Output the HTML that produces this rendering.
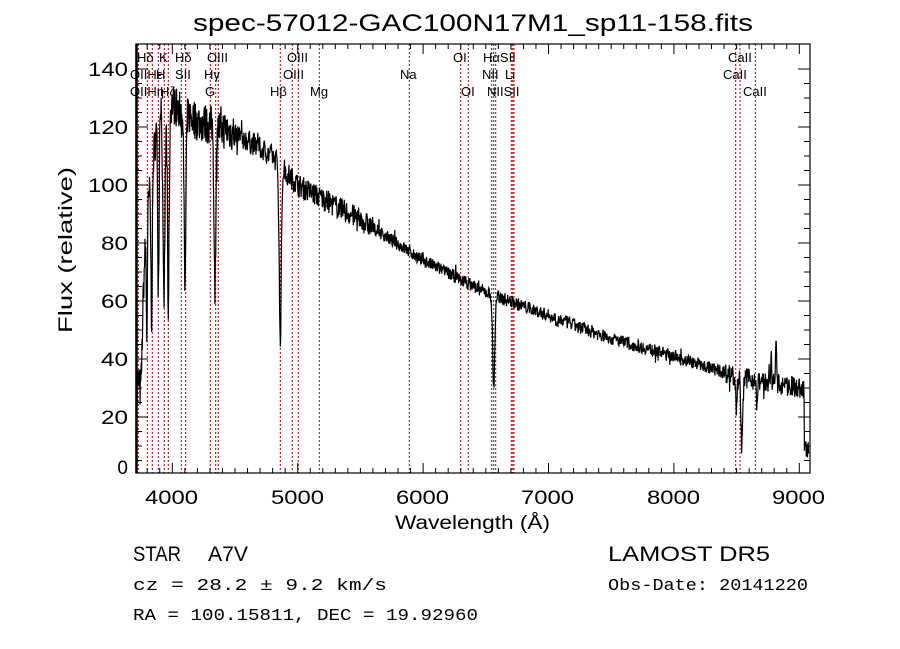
<!DOCTYPE html>
<html><head><meta charset="utf-8"><style>
body{margin:0;background:#fff;}
svg{display:block;font-family:"Liberation Sans",sans-serif;}
</style></head><body>
<svg id="s" width="900" height="649" viewBox="0 0 900 649" xmlns="http://www.w3.org/2000/svg">
<rect width="900" height="649" fill="#fff"/>
<text x="193" y="31" font-size="24" textLength="560" lengthAdjust="spacingAndGlyphs">spec-57012-GAC100N17M1_sp11-158.fits</text>
<g id="lines"></g>
<polyline id="spec" fill="none" stroke="#000" stroke-width="1.2" points=""/>
<rect x="136" y="44" width="674" height="429" fill="none" stroke="#000" stroke-width="1.2"/>
<line x1="136.5" y1="44" x2="136.5" y2="473" stroke="#000" stroke-width="2.5"/>
<g id="ticks" stroke="#000" stroke-width="1"></g>
<g font-size="19" text-anchor="end">
<text x="128" y="76" textLength="40" lengthAdjust="spacingAndGlyphs">140</text><text x="128" y="134" textLength="40" lengthAdjust="spacingAndGlyphs">120</text><text x="128" y="192" textLength="40" lengthAdjust="spacingAndGlyphs">100</text>
<text x="128" y="250" textLength="27" lengthAdjust="spacingAndGlyphs">80</text><text x="128" y="308" textLength="27" lengthAdjust="spacingAndGlyphs">60</text><text x="128" y="366" textLength="27" lengthAdjust="spacingAndGlyphs">40</text>
<text x="128" y="424" textLength="27" lengthAdjust="spacingAndGlyphs">20</text><text x="128" y="474">0</text>
</g>
<g font-size="19">
<text x="145" y="504" textLength="53" lengthAdjust="spacingAndGlyphs">4000</text><text x="271" y="504" textLength="53" lengthAdjust="spacingAndGlyphs">5000</text><text x="396" y="504" textLength="53" lengthAdjust="spacingAndGlyphs">6000</text>
<text x="521" y="504" textLength="53" lengthAdjust="spacingAndGlyphs">7000</text><text x="647" y="504" textLength="53" lengthAdjust="spacingAndGlyphs">8000</text><text x="772" y="504" textLength="53" lengthAdjust="spacingAndGlyphs">9000</text>
</g>
<text x="395" y="529" font-size="19" textLength="155" lengthAdjust="spacingAndGlyphs">Wavelength (Å)</text>
<text transform="translate(72,333) rotate(-90)" font-size="19" textLength="166" lengthAdjust="spacingAndGlyphs">Flux (relative)</text>
<g font-size="13">
<text x="137" y="62">Hδ</text><text x="159" y="62">K</text><text x="175" y="62">Hδ</text><text x="207" y="62">OIII</text><text x="287" y="62">OIII</text>
<text x="453" y="62">OI</text><text x="483" y="62">HαSII</text><text x="728" y="62">CaII</text>
<text x="130" y="79">OIIHε</text><text x="156" y="79">H</text><text x="175" y="79">SII</text><text x="204" y="79">Hγ</text><text x="283" y="79">OIII</text>
<text x="400" y="79">Na</text><text x="482" y="79">NII</text><text x="505" y="79">Li</text><text x="723" y="79">CaII</text>
<text x="130" y="96">OIIHη</text><text x="160" y="96">Hζ</text><text x="205" y="96">G</text><text x="270" y="96">Hβ</text><text x="310" y="96">Mg</text>
<text x="461" y="96">OI</text><text x="487" y="96">NIISII</text><text x="743" y="96">CaII</text>
</g>
<g font-size="21"><text x="133" y="561" textLength="48" lengthAdjust="spacingAndGlyphs">STAR</text><text x="208" y="561" textLength="40" lengthAdjust="spacingAndGlyphs">A7V</text><text x="608" y="561" textLength="162" lengthAdjust="spacingAndGlyphs">LAMOST DR5</text></g>
<g font-size="17" font-family="Liberation Mono, monospace">
<text x="133" y="590" textLength="254" lengthAdjust="spacingAndGlyphs">cz = 28.2 ± 9.2 km/s</text>
<text x="608" y="590" textLength="200" lengthAdjust="spacingAndGlyphs">Obs-Date: 20141220</text>
<text x="133" y="620" textLength="345" lengthAdjust="spacingAndGlyphs">RA = 100.15811, DEC =  19.92960</text>
</g>
</svg>
<script>
var NS="http://www.w3.org/2000/svg";
function X(l){return 172.3+(l-4000)*0.1254;}
function Y(v){return 475-2.9*v;}
var g=document.getElementById("lines");
var red=[138.3,147.3,152.3,158.3,164.3,168.3,185.7,210.3,215.7,218.3,280.3,292.3,298.3,460.7,468.3,511.3,512.7,514,735.7,740];
var blk=[181.3,319.3,409.3,491.7,493.7,495.7,755.3];
function vl(x,c){var l=document.createElementNS(NS,"line");l.setAttribute("x1",x);l.setAttribute("x2",x);l.setAttribute("y1",44);l.setAttribute("y2",473);l.setAttribute("stroke",c);l.setAttribute("stroke-width",1);l.setAttribute("stroke-dasharray","2,2");g.appendChild(l);}
red.forEach(function(x){vl(x,"#b00000");});blk.forEach(function(x){vl(x,"#333");});
var t=document.getElementById("ticks"),h="";
for(var l=3800;l<=9000;l+=100){var x=X(l),L=(l%1000==0)?10:5;h+='<line x1="'+x+'" x2="'+x+'" y1="473" y2="'+(473-L)+'"/><line x1="'+x+'" x2="'+x+'" y1="44" y2="'+(44+L)+'"/>';}
for(var v=5;v<=140;v+=5){var y=Y(v),L=(v%20==0)?12:6;h+='<line x1="136" x2="'+(136+L)+'" y1="'+y+'" y2="'+y+'"/><line x1="810" x2="'+(810-L)+'" y1="'+y+'" y2="'+y+'"/>';}
t.innerHTML=h;
var seed=7;function r(){seed=(seed*16807)%2147483647;return seed/2147483647-0.5;}
var cont=[[3710,20],[3800,90],[3900,130],[4000,128],[4200,122],[4500,118],[4800,110],[5000,100],[5500,88],[6000,74],[6500,63],[7000,55],[7500,47],[8000,41],[8500,34],[9000,30],[9080,28]];
function C(l){for(var i=0;i<cont.length-1;i++){if(l<=cont[i+1][0]){var a=cont[i],b=cont[i+1];return a[1]+(b[1]-a[1])*(l-a[0])/(b[0]-a[0]);}}return 28;}
var abs=[[3933,12,70],[3968,10,70],[3889,8,60],[3835,8,50],[3797,6,40],[4101,10,60],[4340,10,55],[4861,12,60],[6563,12,32],[8498,8,10],[8542,10,25],[8662,8,8],[3750,15,20]];
var pts=[];
for(var l=3710;l<=9075;l+=3){var v=C(l);var n=l<4500?14:(l<5600?8:(l<8400?4.5:7));v+=r()*n;
if(r()>0.47)v+=r()*n*1.5;
abs.forEach(function(a){var d=(l-a[0])/a[1];v-=a[2]*Math.exp(-d*d);});
if(l>8760&&l<8830)v+=15*Math.exp(-Math.pow((l-8815)/6,2))+10*Math.exp(-Math.pow((l-8775)/5,2));
if(l>9040)v-=20;
if(v<1)v=1;if(v>146)v=146;pts.push(X(l).toFixed(1)+","+Y(v).toFixed(1));}
document.getElementById("spec").setAttribute("points",pts.join(" "));
</script>
</body></html>
